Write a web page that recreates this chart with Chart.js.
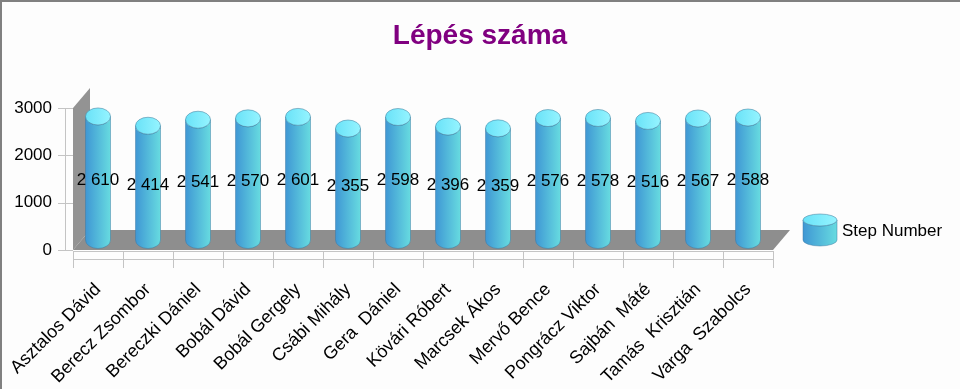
<!DOCTYPE html>
<html>
<head>
<meta charset="utf-8">
<script src="https://cdn.jsdelivr.net/npm/chart.js@4.4.1/dist/chart.umd.min.js"></script>
<style>
  html, body { margin: 0; padding: 0; background: #fdfdfd; }
  #wrap { width: 960px; height: 389px; }
</style>
</head>
<body>
<div id="wrap"><canvas id="canvas"></canvas></div>
<script>
const categories = ['Asztalos Dávid', 'Berecz Zsombor', 'Bereczki Dániel', 'Bobál Dávid', 'Bobál Gergely',
  'Csábi Mihály', 'Gera  Dániel', 'Kövári Róbert', 'Marcsek Ákos', 'Mervő Bence',
  'Pongrácz Viktor', 'Sajbán  Máté', 'Tamás  Krisztián', 'Varga  Szabolcs'];
const stepNumber = [2610, 2414, 2541, 2570, 2601, 2355, 2598, 2396, 2359, 2576, 2578, 2516, 2567, 2588];
const seriesName = 'Step Number';
const yMax = 3000;
const yStep = 1000;

const FONT = "'Liberation Sans', Arial, sans-serif";
const depthX = 17, depthY = 20; // 3d depth of the floor / wall

// thousands with a space, like the original: 2 610
const fmt = v => String(v).replace(/\B(?=(\d{3})+(?!\d))/g, ' ');

function drawCylinder(c, cx, topY, botY, rx, ry) {
  // side
  const g = c.createLinearGradient(cx - rx, 0, cx + rx, 0);
  g.addColorStop(0, '#3f97d4');
  g.addColorStop(1, '#67dbe0');
  c.beginPath();
  c.moveTo(cx - rx, topY);
  c.lineTo(cx - rx, botY);
  c.ellipse(cx, botY, rx, ry, 0, Math.PI, 0, true);
  c.lineTo(cx + rx, topY);
  c.ellipse(cx, topY, rx, ry, 0, 0, Math.PI, false);
  c.closePath();
  c.fillStyle = g;
  c.fill();
  c.strokeStyle = 'rgba(60,120,160,0.6)';
  c.lineWidth = 0.8;
  c.stroke();
  // top
  const t = c.createLinearGradient(cx - rx, 0, cx + rx, 0);
  t.addColorStop(0, '#6ae2f8');
  t.addColorStop(1, '#95f4ff');
  c.beginPath();
  c.ellipse(cx, topY, rx, ry, 0, 0, Math.PI * 2);
  c.fillStyle = t;
  c.fill();
  c.strokeStyle = 'rgba(70,130,160,0.7)';
  c.stroke();
}

const cylinder3d = {
  id: 'cylinder3d',
  beforeDraw(chart) {
    const c = chart.ctx;
    c.save();
    c.fillStyle = '#fdfdfd';
    c.fillRect(0, 0, chart.width, chart.height);
    c.fillStyle = '#808080';
    c.fillRect(0, 0, chart.width, 2);
    c.fillRect(0, 0, 2, chart.height);
    c.restore();
  },
  beforeDatasetsDraw(chart) {
    const c = chart.ctx;
    const {left, right} = chart.chartArea;
    const y = chart.scales.y;
    const x = chart.scales.x;
    const y0 = y.getPixelForValue(0);
    const yTop = y.getPixelForValue(yMax);
    c.save();
    // left wall
    c.fillStyle = '#939393';
    c.beginPath();
    c.moveTo(left, y0);
    c.lineTo(left, yTop);
    c.lineTo(left + depthX, yTop - depthY);
    c.lineTo(left + depthX, y0 - depthY);
    c.closePath();
    c.fill();
    // floor
    c.fillStyle = '#8e8e8e';
    c.beginPath();
    c.moveTo(left, y0);
    c.lineTo(left + depthX, y0 - depthY);
    c.lineTo(right + depthX, y0 - depthY);
    c.lineTo(right, y0);
    c.closePath();
    c.fill();
    // y axis line and ticks
    c.strokeStyle = '#c4c4c4';
    c.lineWidth = 1;
    c.beginPath();
    c.moveTo(left - 7.5, yTop);
    c.lineTo(left - 7.5, y0);
    for (let v = 0; v <= yMax; v += yStep) {
      const py = Math.round(y.getPixelForValue(v)) + 0.5;
      c.moveTo(left - 15, py);
      c.lineTo(left, py);
    }
    // x axis band under the floor
    c.moveTo(left, Math.round(y0) + 1.5);
    c.lineTo(right, Math.round(y0) + 1.5);
    c.moveTo(left, Math.round(y0) + 9.5);
    c.lineTo(right, Math.round(y0) + 9.5);
    const w = (right - left) / categories.length;
    for (let i = 0; i <= categories.length; i++) {
      const px = Math.round(x.getPixelForValue(0) - w / 2 + i * w) + 0.5;
      c.moveTo(px, y0 + 1);
      c.lineTo(px, y0 + 18);
    }
    c.stroke();
    c.restore();
  },
  afterDatasetsDraw(chart) {
    const c = chart.ctx;
    const x = chart.scales.x;
    const y = chart.scales.y;
    const w = (chart.chartArea.right - chart.chartArea.left) / categories.length;
    const rx = w * 0.25, ry = 8.5;
    const botY = y.getPixelForValue(0) - depthY / 2;
    c.save();
    stepNumber.forEach((v, i) => {
      const cx = x.getPixelForValue(i);
      const topY = y.getPixelForValue(v) - depthY / 2;
      drawCylinder(c, cx, topY, botY, rx, ry);
    });
    c.fillStyle = '#000';
    c.font = '17px ' + FONT;
    c.textAlign = 'center';
    c.textBaseline = 'middle';
    stepNumber.forEach((v, i) => {
      const cx = x.getPixelForValue(i);
      const topY = y.getPixelForValue(v) - depthY / 2;
      c.fillText(fmt(v), cx, (topY + botY) / 2 + 2);
    });
    // legend
    const lx = chart.chartArea.right + 30;
    const ly = 231;
    drawCylinder(c, lx + 17, ly - 11, ly + 9, 17, 6);
    c.fillStyle = '#000';
    c.textAlign = 'left';
    c.fillText(seriesName, lx + 39, ly);
    c.restore();
  }
};

new Chart(document.getElementById('canvas'), {
  type: 'bar',
  data: {
    labels: categories,
    datasets: [{
      label: seriesName,
      data: stepNumber,
      backgroundColor: 'rgba(0,0,0,0)',
      borderWidth: 0
    }]
  },
  options: {
    responsive: true,
    maintainAspectRatio: false,
    animation: false,
    layout: { padding: 0 },
    plugins: {
      legend: { display: false },
      tooltip: { enabled: false },
      title: {
        display: true,
        text: 'Lépés száma',
        color: '#800080',
        font: { family: FONT, size: 28, weight: 'bold' },
        padding: { top: 19, bottom: 55.4 }
      }
    },
    scales: {
      x: {
        grid: { display: false, drawTicks: false },
        border: { display: false },
        ticks: {
          color: '#000',
          font: { family: FONT, size: 18 },
          minRotation: 45,
          maxRotation: 45,
          autoSkip: false,
          padding: 29
        },
        afterFit(s) {
          s.height = 139;
          s.paddingLeft = 0;
          s.paddingRight = 0;
        }
      },
      y: {
        min: 0,
        max: yMax,
        grid: { display: false, drawTicks: false },
        border: { display: false },
        ticks: {
          stepSize: yStep,
          color: '#000',
          font: { family: FONT, size: 17 },
          padding: 21,
          callback: v => String(v)
        },
        afterFit(s) { s.width = 73; }
      },
      yRight: {
        position: 'right',
        display: true,
        grid: { display: false, drawTicks: false },
        border: { display: false },
        ticks: { display: false },
        afterFit(s) { s.width = 187; }
      }
    }
  },
  plugins: [cylinder3d]
});
</script>
</body>
</html>
